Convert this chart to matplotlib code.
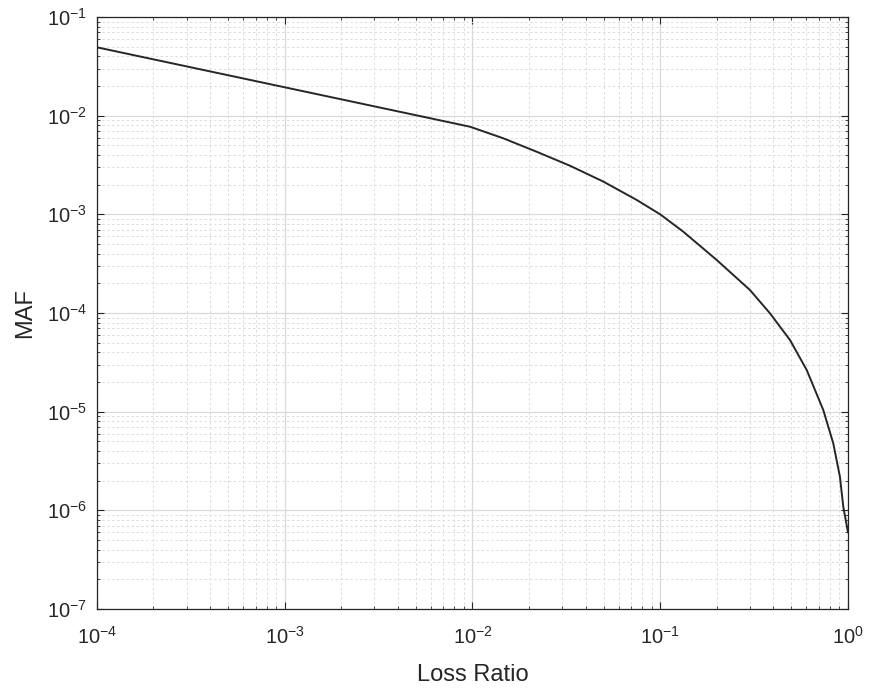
import matplotlib
matplotlib.use("Agg")
import matplotlib.pyplot as plt
from matplotlib.ticker import LogLocator, NullFormatter

loss_ratio = [1e-4, 1e-3, 0.0097, 0.01459, 0.02197, 0.03306, 0.04972, 0.0749,
              0.1, 0.1327, 0.1998, 0.3006, 0.3842, 0.491, 0.6026,
              0.7386, 0.835, 0.906, 0.944, 1.0]
maf = [0.0493, 0.0194, 0.00773, 0.0059, 0.00431, 0.00311, 0.00215, 0.0014,
       0.001, 0.000667, 0.000345, 0.000171, 9.93e-5, 5.33e-5, 2.65e-5,
       1.04e-5, 4.78e-6, 2.19e-6, 1.09e-6, 6.0e-7]

x_ticks = [1e-4, 1e-3, 1e-2, 1e-1, 1e0]
x_labels = ["$10^{-4}$", "$10^{-3}$", "$10^{-2}$", "$10^{-1}$", "$10^{0}$"]
y_ticks = [1e-7, 1e-6, 1e-5, 1e-4, 1e-3, 1e-2, 1e-1]
y_labels = ["$10^{-7}$", "$10^{-6}$", "$10^{-5}$", "$10^{-4}$", "$10^{-3}$", "$10^{-2}$", "$10^{-1}$"]

plt.rcParams['font.family'] = ['Liberation Sans', 'DejaVu Sans']
plt.rcParams['mathtext.fontset'] = 'custom'
plt.rcParams['mathtext.rm'] = 'Liberation Sans'
plt.rcParams['mathtext.it'] = 'Liberation Sans'
plt.rcParams['mathtext.default'] = 'regular'

fig = plt.figure(figsize=(8.69, 6.89), dpi=100)
ax = fig.add_axes([0.1116, 0.1161, 0.8642, 0.8592])

ax.plot(loss_ratio, maf, color='#262626', linewidth=1.4)
ax.set_xscale('log')
ax.set_yscale('log')
ax.set_xlim(1e-4, 1e0)
ax.set_ylim(1e-7, 1e-1)

ax.set_xticks(x_ticks)
ax.set_xticklabels(x_labels)
ax.set_yticks(y_ticks)
ax.set_yticklabels(y_labels)
ax.xaxis.set_minor_locator(LogLocator(base=10, subs=range(2, 10), numticks=20))
ax.yaxis.set_minor_locator(LogLocator(base=10, subs=range(2, 10), numticks=20))
ax.xaxis.set_minor_formatter(NullFormatter())
ax.yaxis.set_minor_formatter(NullFormatter())

ax.grid(True, which='major', color='#d9d9d9', linestyle='-', linewidth=0.9)
ax.grid(True, which='minor', color='#dcdcdc', linestyle=(0, (2.5, 2.5)), linewidth=0.7)
ax.set_axisbelow(True)

ax.tick_params(which='both', direction='in', top=True, right=True, colors='#262626',
               labelsize=14.5)
ax.tick_params(axis='x', which='major', pad=12)
ax.tick_params(axis='y', which='major', pad=7)
ax.tick_params(which='major', length=5, width=0.8)
ax.tick_params(which='minor', length=2.5, width=0.6)
for s in ax.spines.values():
    s.set_color('#262626')
    s.set_linewidth(0.9)

ax.set_xlabel('Loss Ratio', fontsize=17, color='#262626', labelpad=12)
ax.set_ylabel('MAF', fontsize=17, color='#262626', labelpad=8)

fig.savefig('out.png', dpi=100)
